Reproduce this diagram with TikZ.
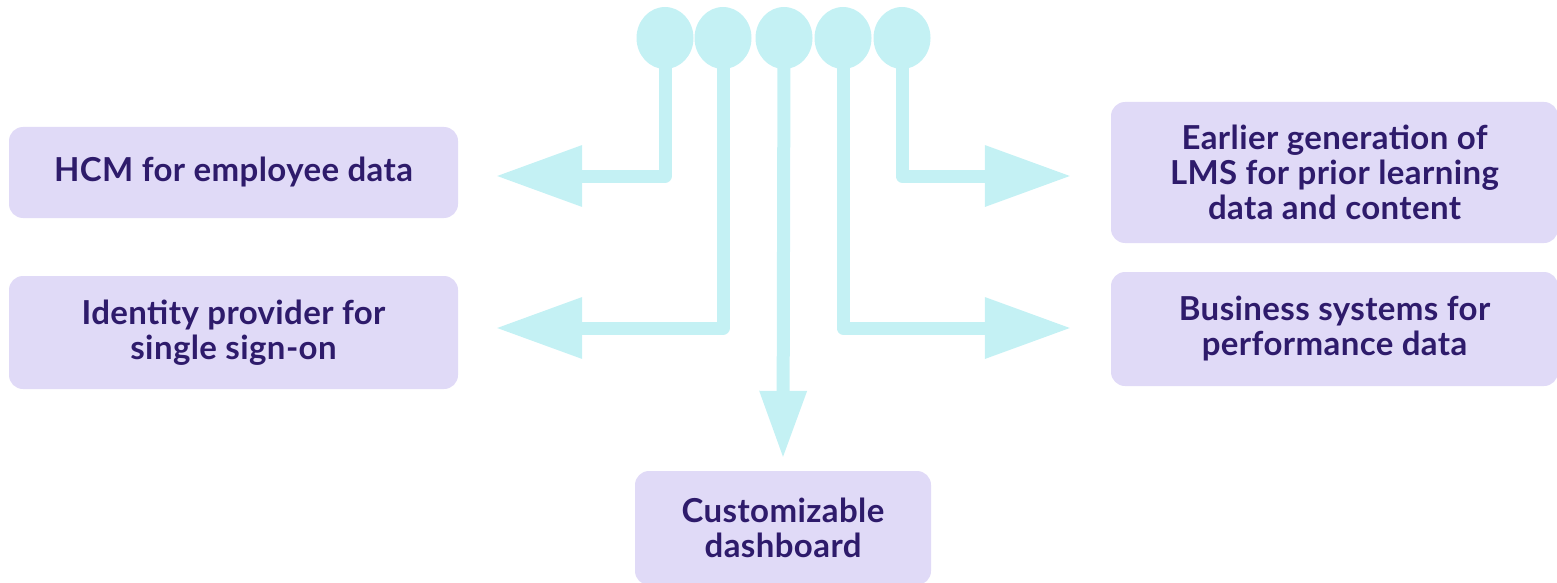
\documentclass[tikz,border=0pt]{standalone}
\usepackage{fontspec}
\setmainfont{Lato}
\usetikzlibrary{arrows.meta,shapes.geometric}
\definecolor{cyanl}{HTML}{C4F1F4}
\definecolor{boxfill}{HTML}{E0DAF7}
\definecolor{txt}{HTML}{2E1B6B}
\tikzset{
  sysbox/.style={fill=boxfill, rounded corners=14pt, inner sep=0pt, align=center,
    text=txt, font=\fontsize{33}{35}\selectfont\bfseries\addfontfeature{LetterSpace=1.2}},
  knob/.style={ellipse, fill=cyanl, minimum width=57pt, minimum height=62pt, inner sep=0pt},
  conn/.style={draw=cyanl, line width=13pt, line join=round,
    -{Triangle[length=85pt,width=62pt,line width=0pt,fill=cyanl]}},
  connd/.style={draw=cyanl, line width=13pt, line join=round,
    -{Triangle[length=66pt,width=48pt,line width=0pt,fill=cyanl]}},
}
\begin{document}
\begin{tikzpicture}[x=1pt,y=-1pt]
\useasboundingbox (0,0) rectangle (1557,583);
% boxes
\node[sysbox, minimum width=449pt, minimum height=91pt] (hcm) at (233.5,172.5) {HCM for employee data};
\node[sysbox, minimum width=449pt, minimum height=113pt] (idp) at (233.5,332.5) {Identity provider for\\single sign-on};
\node[sysbox, minimum width=447pt, minimum height=141pt] (lms) at (1334.5,172.5) {Earlier generation of\\LMS for prior learning\\data and content};
\node[sysbox, minimum width=447pt, minimum height=114pt] (biz) at (1334.5,329) {Business systems for\\performance data};
\node[sysbox, minimum width=296pt, minimum height=114pt] (dash) at (783,528) {Customizable\\dashboard};
% knobs
\node[knob] (k1) at (665,38) {};
\node[knob] (k2) at (723,38) {};
\node[knob] (k3) at (784,38) {};
\node[knob] (k4) at (843,38) {};
\node[knob] (k5) at (902,38) {};
% connectors
\draw[conn] (k1.center) |- ([xshift=39pt,yshift=-3.5pt]hcm.east);
\draw[conn] (k2.center) |- ([xshift=39pt,yshift=4.5pt]idp.east);
\draw[connd] (k3.center) -- ([yshift=14pt]dash.north);
\draw[conn] (k4.center) |- ([xshift=-41pt,yshift=1pt]biz.west);
\draw[conn] (k5.center) |- ([xshift=-41pt,yshift=-3.5pt]lms.west);
\end{tikzpicture}
\end{document}
